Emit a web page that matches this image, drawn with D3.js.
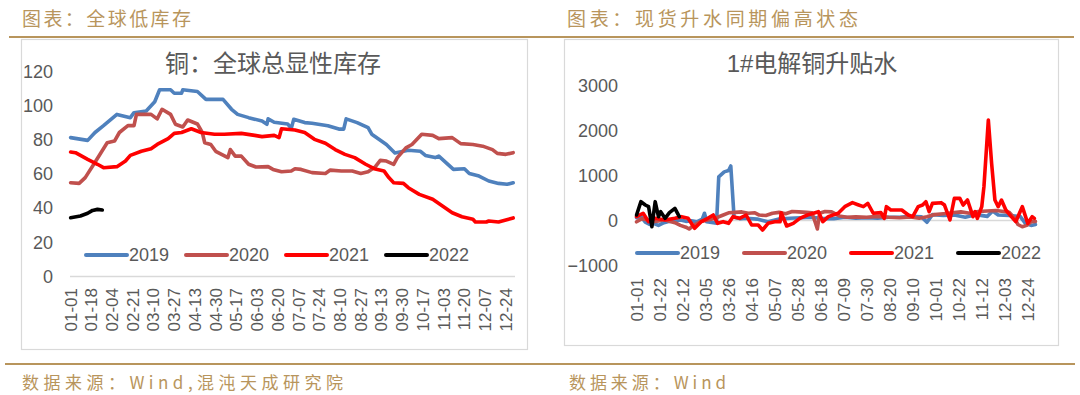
<!DOCTYPE html>
<html><head><meta charset="utf-8">
<script src="https://cdn.jsdelivr.net/npm/d3@7"></script>
<style>html,body{margin:0;padding:0;background:#fff;}svg{display:block;}</style>
</head><body>
<svg id="c" width="1080" height="395"></svg>
<script>
// ---------- DATA ----------
const seriesNames = ["2019", "2020", "2021", "2022"];
const seriesColors = ["#4F81BD", "#C0504D", "#FF0000", "#000000"];

// left chart: tick labels (every 17 days)
const leftTicks = ["01-01","01-18","02-04","02-21","03-10","03-27","04-13","04-30","05-17","06-03","06-20","07-07","07-24","08-10","08-27","09-13","09-30","10-17","11-03","11-20","12-07","12-24"];
const leftYTicks = [0, 20, 40, 60, 80, 100, 120];
// values: [day of year (0 = 01-01), inventory]
const inv2019 = [[0,81],[14,79.4],[20,84],[27,88],[38,94.6],[49,92.7],[52,95.6],[62,96.6],[69,102],[73,109],[82,109],[85,107],[91,107],[92,109],[104,108],[111,103.4],[125,103.4],[132,97.6],[137,94.6],[146,92.7],[157,90.7],[161,88.8],[162,92],[167,90],[178,89],[181,86.4],[183,91.7],[192,89.8],[198,89.4],[211,88],[220,86],[224,86],[226,92],[235,89.8],[244,86.8],[247,83],[259,77],[266,72],[277,73.6],[287,73],[291,70.6],[299,69.3],[302,70.2],[314,62.4],[323,62.8],[327,60],[335,58.5],[343,55.6],[351,54.2],[358,53.7],[363,54.6]];
const inv2020 = [[0,54.6],[7,54.2],[12,57.6],[19,65.4],[30,78],[36,79],[40,84],[47,88],[52,88],[54,94.6],[66,94.6],[71,92],[75,97.6],[82,94.6],[86,88.8],[92,87.2],[96,91.3],[104,89],[108,84],[110,78],[115,77],[119,73],[129,69.3],[131,74],[135,70.2],[140,70.2],[146,65.4],[152,63.8],[162,64],[166,62.4],[173,61],[181,61.5],[184,62.8],[189,62.4],[198,60.5],[209,60],[213,62],[222,61.5],[231,61.5],[238,60],[244,61],[250,64],[254,67.7],[259,67.3],[265,65.4],[268,69.3],[275,75],[280,77],[288,83],[297,82.3],[302,80.4],[313,81],[320,77.5],[330,77],[338,76],[346,74],[350,71.8],[357,71.2],[363,72.2]];
const inv2021 = [[0,72.6],[4,72.2],[14,68.3],[22,65.4],[27,63.4],[38,64],[45,67.3],[49,70.6],[58,73],[66,74.5],[71,77],[80,80.4],[85,83.5],[91,84],[99,86.2],[107,84],[118,83],[126,83],[140,83.5],[151,82.3],[157,81.6],[167,82.3],[171,81],[173,86.2],[184,85.5],[192,84],[200,80],[209,77.7],[217,74],[225,71.2],[233,69.3],[242,65.4],[249,62.8],[257,61.5],[261,57.6],[265,54.6],[273,54.2],[277,51.7],[286,47.8],[297,44.9],[305,41],[313,37],[321,34.7],[330,33.2],[332,31.6],[341,31.6],[343,32.2],[351,31.6],[357,32.8],[363,34]];
const inv2022 = [[0,34.1],[8,35.1],[14,36.7],[18,38.4],[22,39],[26,38.6]];

// right chart: tick labels (every 21 days)
const rightTicks = ["01-01","01-22","02-12","03-05","03-26","04-16","05-07","05-28","06-18","07-09","07-30","08-20","09-10","10-01","10-22","11-12","12-03","12-24"];
const rightYTicks = [-1000, 0, 1000, 2000, 3000];
const prem2019 = [[0,50],[4,80],[8,-50],[12,-100],[16,-80],[20,-120],[25,-60],[30,-30],[35,-20],[40,0],[45,-30],[50,-20],[55,-40],[60,20],[62,150],[64,-40],[70,-60],[73,-70],[75,960],[80,1070],[84,1100],[86,1200],[89,60],[95,30],[100,40],[110,20],[120,-40],[130,20],[140,40],[150,50],[160,60],[170,30],[180,30],[190,60],[200,40],[210,50],[220,40],[230,60],[240,60],[250,80],[260,70],[265,-50],[270,120],[280,100],[290,110],[300,60],[310,120],[320,80],[325,200],[330,110],[340,100],[350,80],[355,-80],[360,-120],[364,-100]];
const prem2020 = [[0,-40],[5,30],[10,0],[15,-40],[20,-20],[25,10],[30,-30],[35,-60],[40,-120],[45,-160],[48,-200],[52,-120],[58,-40],[65,0],[72,40],[78,100],[84,160],[90,170],[96,180],[102,150],[108,160],[112,110],[118,100],[124,150],[130,170],[136,140],[142,190],[148,180],[155,170],[160,160],[163,-50],[165,-200],[167,150],[172,190],[178,180],[185,90],[192,60],[200,70],[210,60],[220,80],[230,60],[240,50],[250,70],[258,40],[265,70],[272,120],[280,140],[288,160],[296,180],[304,150],[312,190],[320,200],[328,210],[335,190],[340,170],[345,40],[348,-100],[352,-150],[356,-120],[360,-40],[364,-30]];
const prem2021 = [[0,74],[6,150],[11,-37],[17,37],[26,0],[35,37],[41,74],[47,37],[53,-185],[59,-37],[65,37],[70,111],[74,-74],[79,-37],[84,-74],[88,74],[94,37],[100,111],[105,-111],[111,-111],[115,-222],[120,-74],[126,-37],[131,-37],[132,163],[137,-133],[143,-74],[149,37],[156,111],[166,185],[170,-37],[175,74],[184,150],[190,296],[197,385],[202,340],[207,296],[211,370],[216,150],[223,163],[226,37],[228,296],[232,222],[242,222],[248,111],[252,74],[257,296],[261,333],[264,407],[267,185],[270,370],[278,385],[281,333],[286,0],[290,481],[295,481],[298,333],[302,444],[307,74],[309,185],[311,37],[315,296],[317,741],[321,2222],[324,1260],[327,444],[330,296],[333,444],[337,222],[342,74],[346,-37],[352,296],[357,-74],[361,74],[363,37]];
const prem2022 = [[0,111],[4,407],[8,333],[11,296],[14,-148],[17,407],[20,74],[22,185],[26,37],[30,163],[35,259],[39,74]];

const dayOf = s => { const [m,d] = s.split("-").map(Number); return Math.round((Date.UTC(2019,m-1,d)-Date.UTC(2019,0,1))/864e5); };

// ---------- DRAW ----------
const svg = d3.select("#c");
const gold = "#B8955C";
const grey = "#595959";
const latin = "'Liberation Sans', Arial, sans-serif";
const cjk = "'Liberation Sans','Noto Sans CJK SC', sans-serif";

// header / footer
svg.append("line").attr("x1",9).attr("x2",1074).attr("y1",37).attr("y2",37).attr("stroke",gold).attr("stroke-width",2);
svg.append("line").attr("x1",5).attr("x2",1075).attr("y1",364).attr("y2",364).attr("stroke",gold).attr("stroke-width",2);
const hdr = [["图表：全球低库存",22,169],["图表：现货升水同期偏高状态",567,291]];
hdr.forEach(([t,x,w]) => svg.append("text").attr("x",x).attr("y",17).attr("dominant-baseline","central")
  .attr("font-family","'Noto Sans CJK SC', sans-serif").attr("font-size",19).attr("fill",gold)
  .attr("textLength",w).attr("lengthAdjust","spacing").text(t));
const ftr = [["数据来源：Wind,混沌天成研究院",22,321],["数据来源：Wind",569,157]];
ftr.forEach(([t,x,w]) => svg.append("text").attr("x",x).attr("y",381).attr("dominant-baseline","central")
  .attr("font-family","'Noto Sans CJK SC', sans-serif").attr("font-size",17).attr("fill",gold)
  .attr("textLength",w).attr("lengthAdjust","spacing").text(t));

function chart(cfg) {
  const g = svg.append("g");
  g.append("rect").attr("x",cfg.box[0]+0.5).attr("y",cfg.box[1]+0.5).attr("width",cfg.box[2]-cfg.box[0]).attr("height",cfg.box[3]-cfg.box[1])
    .attr("fill","#fff").attr("stroke","#D9D9D9").attr("stroke-width",1.2);
  g.append("text").attr("x",cfg.titleX).attr("y",63).attr("text-anchor","middle").attr("dominant-baseline","central")
    .attr("font-family",cjk).attr("font-size",24).attr("fill",grey).text(cfg.title);
  const x = d3.scaleLinear().domain([-0.5,364.5]).range(cfg.xr);
  const y = d3.scaleLinear().domain(cfg.yd).range(cfg.yr);
  // y labels
  const ya = g.append("g").attr("transform",`translate(${cfg.yLabelX},0)`)
    .call(d3.axisLeft(y).tickValues(cfg.yTicks).tickSize(0).tickPadding(0).tickFormat(d3.format("d")));
  ya.select(".domain").remove();
  ya.selectAll("text").attr("font-family",latin).attr("font-size",18).attr("fill",grey).attr("dy","0.35em");
  // x axis line
  g.append("line").attr("x1",cfg.xr[0]).attr("x2",cfg.xr[1]).attr("y1",Math.round(y(cfg.axisAt))+0.5).attr("y2",Math.round(y(cfg.axisAt))+0.5)
    .attr("stroke","#D9D9D9").attr("stroke-width",1.5);
  // x labels
  g.selectAll("text.xl").data(cfg.xTicks).join("text").attr("class","xl")
    .attr("transform",d=>`translate(${x(dayOf(d))},${cfg.xLabelY}) rotate(-90)`)
    .attr("text-anchor","end").attr("dy","0.35em").attr("font-family",latin).attr("font-size",17).attr("fill",grey).text(d=>d);
  // lines
  const line = d3.line().x(d=>x(d[0])).y(d=>y(d[1])).curve(d3.curveLinear);
  cfg.series.forEach((s,i)=>{
    g.append("path").datum(s).attr("d",line).attr("fill","none").attr("stroke",seriesColors[i])
      .attr("stroke-width",3.6).attr("stroke-linejoin","round").attr("stroke-linecap","round");
  });
  // legend
  seriesNames.forEach((n,i)=>{
    const lx = cfg.legX + i*cfg.legStep;
    g.append("line").attr("x1",lx).attr("x2",lx+41).attr("y1",cfg.legY).attr("y2",cfg.legY)
      .attr("stroke",seriesColors[i]).attr("stroke-width",4).attr("stroke-linecap","round");
    g.append("text").attr("x",lx+43).attr("y",cfg.legY).attr("dy","0.35em").attr("font-family",latin)
      .attr("font-size",18).attr("fill",grey).text(n);
  });
}

chart({box:[21,39,527,349], title:"铜：全球总显性库存", titleX:273,
  xr:[70,515], yd:[0,120], yr:[276,71], yTicks:leftYTicks, yLabelX:53, axisAt:0,
  xTicks:leftTicks, xLabelY:288, series:[inv2019,inv2020,inv2021,inv2022],
  legX:86, legStep:100, legY:255});

chart({box:[564,39,1058,345], title:"1#电解铜升贴水", titleX:812,
  xr:[636,1036], yd:[-1000,3000], yr:[265,85], yTicks:rightYTicks, yLabelX:618, axisAt:0,
  xTicks:rightTicks, xLabelY:278, series:[prem2019,prem2020,prem2021,prem2022],
  legX:637, legStep:107, legY:253});
</script>
</body></html>
